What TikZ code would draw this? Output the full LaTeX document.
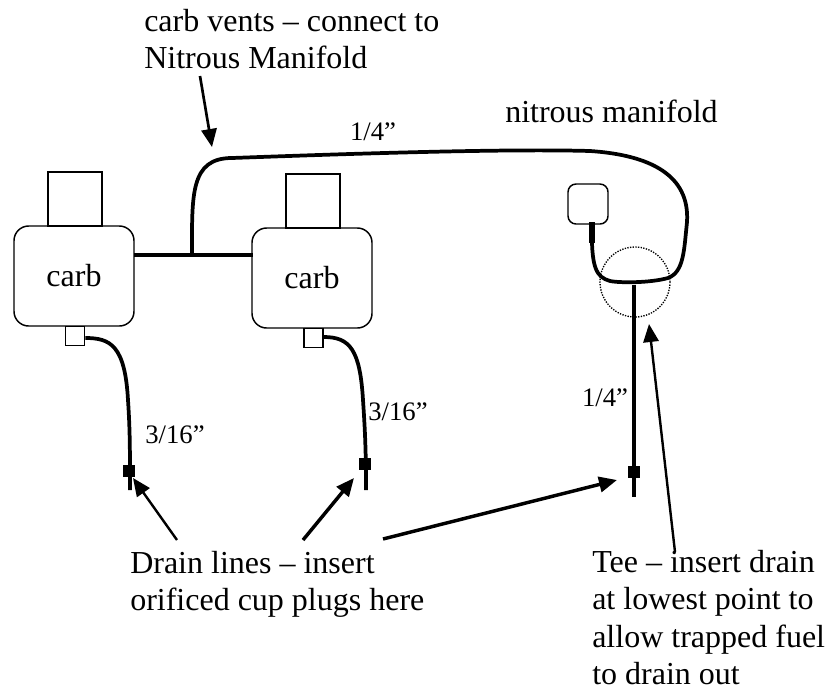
\documentclass[tikz,border=0pt]{standalone}
\usepackage{fontspec}
\setmainfont{Liberation Serif}
\usetikzlibrary{arrows.meta,positioning,calc}
\tikzset{
  box/.style={draw, line width=1.1pt, rounded corners=11pt, minimum width=90pt, minimum height=75pt, inner sep=0pt, font=\fontsize{24}{28}\selectfont},
  neck/.style={draw, line width=1.1pt, minimum width=40.5pt, minimum height=40.5pt, inner sep=0pt},
  port/.style={draw, line width=1.1pt, minimum width=14.5pt, minimum height=14.5pt, inner sep=0pt},
  plug/.style={fill=black, minimum size=9.5pt, inner sep=0pt},
  hose/.style={line width=2.8pt},
  lead/.style={-{Triangle[length=13.5pt,width=11.5pt]}},
  lbl/.style={font=\fontsize{24}{28}\selectfont, align=left, inner sep=0pt, anchor=north west},
  size/.style={font=\fontsize{20}{24}\selectfont, inner sep=0pt}
}
\begin{document}
\begin{tikzpicture}[x=0.75pt,y=-0.75pt]
\useasboundingbox (0,0) rectangle (827,690);
% carbs
\node[box] (carbA) at (74,276) {carb};
\node[box] (carbB) at (312,278) {carb};
\node[neck] (neckA) at (75,199) {};
\node[neck] (neckB) at (313,201) {};
\node[port] (portA) at (75,336) {};
\node[port] (portB) at (313.5,338) {};
\node[draw, line width=1.1pt, rounded corners=6pt, minimum size=30pt, inner sep=0pt] (bowl) at (588,204) {};
\node[draw, densely dotted, line width=1pt, circle, minimum size=52.5pt, inner sep=0pt] (tee) at (635,282) {};
% plugs
\node[plug] (plugA) at (129,471) {};
\node[plug] (plugB) at (365,464) {};
\node[plug] (plugC) at (634,472) {};
% free ends
\coordinate (endA) at (130,490);
\coordinate (endB) at (366,490);
\coordinate (endC) at (634,497);
\coordinate (ventL) at (134,255);
\coordinate (ventR) at (253,255);
\coordinate (ventT) at (192,255);
\coordinate (teeL) at (634,282);
% hoses
\draw[hose] (ventL) -- (ventR);
\draw[hose] (ventT) .. controls (192,195) and (190,158) .. (232,158) -- (260,157)
  .. controls (400,152) and (520,149) .. (590,151) .. controls (650,155) and (690,175) .. (687,222)
  .. controls (684,250) and (684,272) .. (668,278) .. controls (650,283) and (620,283) .. (610,281)
  .. controls (596,277) and (591,268) .. (592,224);
\draw[line width=4pt] (592,222) -- (592,243);
\draw[hose] (portA.east |- 0,338) .. controls (110,338) and (125,345) .. (128,400) .. controls (130,430) and (130,450) .. (endA);
\draw[hose] (portB.east |- 0,337) .. controls (350,337) and (360,350) .. (363,400) .. controls (365,430) and (366,450) .. (endB);
\draw[hose] (teeL |- 0,285) -- (endC);
% leads
\coordinate (ventS) at (200,76);
\coordinate (ventE) at (212,147);
\coordinate (drainA) at (177,540);
\coordinate (drainAe) at (133,478);
\coordinate (drainB) at (303,540);
\coordinate (drainBe) at (354,478);
\coordinate (drainC) at (383,539);
\coordinate (drainCe) at (617,480);
\coordinate (teeS) at (675,552);
\coordinate (teeE) at (649,324);
\draw[lead, line width=2pt] (ventS) -- (ventE);
\draw[lead, line width=1.8pt] (drainA) -- (drainAe);
\draw[lead, line width=2.6pt] (drainB) -- (drainBe);
\draw[lead, line width=2.6pt] (drainC) -- (drainCe);
\draw[lead, line width=1.8pt] (teeS) -- (teeE);
% labels
\node[lbl] (ventLbl) at (144,9) {carb vents -- connect to\\Nitrous Manifold};
\node[lbl] (manLbl) at (505,100) {nitrous manifold};
\node[lbl] (drainLbl) at (130,551) {Drain lines -- insert\\orificed cup plugs here};
\node[lbl] (teeLbl) at (592,550) {Tee -- insert drain\\at lowest point to\\allow trapped fuel\\to drain out};
\node[size] (sizeTop) at (373,132) {1/4”};
\node[size] (sizeA) at (175,435) {3/16”};
\node[size] (sizeB) at (398,412) {3/16”};
\node[size] (sizeC) at (605,398) {1/4”};
\end{tikzpicture}
\end{document}
